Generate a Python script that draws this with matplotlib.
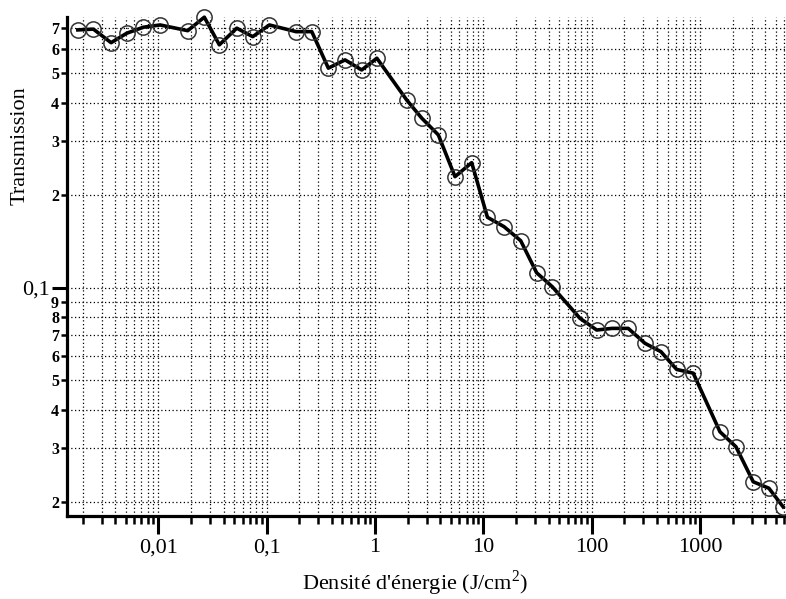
import numpy as np
import matplotlib.pyplot as plt
from matplotlib.ticker import FixedLocator, FixedFormatter, NullFormatter

# energy density (J/cm2) and transmission
energie = [0.00181, 0.00252, 0.00367, 0.00512, 0.00729, 0.0104, 0.0187, 0.0266,
           0.0366, 0.0530, 0.0744, 0.106, 0.187, 0.261, 0.371, 0.529, 0.754,
           1.04, 1.96, 2.70, 3.84, 5.47, 7.80, 10.9, 15.5, 22.1, 31.0, 43.2,
           77.8, 111, 154, 217, 310, 435, 607, 864, 1524, 2140, 3090, 4310, 5840]
transmission = [0.690, 0.694, 0.627, 0.673, 0.704, 0.716, 0.686, 0.759,
                0.617, 0.699, 0.656, 0.716, 0.681, 0.681, 0.518, 0.551, 0.511,
                0.558, 0.408, 0.356, 0.314, 0.2296, 0.255, 0.1693, 0.1578,
                0.1420, 0.1117, 0.1006, 0.0794, 0.0727, 0.0736, 0.0736,
                0.0658, 0.0618, 0.0541, 0.0526, 0.0339, 0.0303, 0.0233,
                0.0222, 0.0193]

x_major = [0.01, 0.1, 1, 10, 100, 1000]
x_major_labels = ["0,01", "0,1", "1", "10", "100", "1000"]
y_major = [0.1]
y_major_labels = ["0,1"]
y_minor = [0.02, 0.03, 0.04, 0.05, 0.06, 0.07, 0.08, 0.09,
           0.2, 0.3, 0.4, 0.5, 0.6, 0.7]
y_minor_labels = ["2", "3", "4", "5", "6", "7", "8", "9",
                  "2", "3", "4", "5", "6", "7"]

plt.rcParams['font.family'] = ['Liberation Serif', 'DejaVu Serif']
plt.rcParams['mathtext.fontset'] = 'custom'
plt.rcParams['mathtext.rm'] = 'Liberation Serif'

fig = plt.figure(figsize=(7.86, 5.99), dpi=100)
ax = fig.add_axes([0.0849, 0.1386, 0.9151, 0.833])

ax.plot(energie, transmission, color='black', lw=2.6, zorder=3, clip_on=False)
ax.plot(energie, transmission, ls='none', marker='o', ms=11, mfc='none',
        mec='#333333', mew=1.1, zorder=4, clip_on=False)

ax.set_xscale('log')
ax.set_yscale('log')
ax.set_xlim(0.00143, 6200)
ax.set_ylim(0.01803, 0.760)

# x ticks
ax.xaxis.set_major_locator(FixedLocator(x_major))
ax.xaxis.set_major_formatter(FixedFormatter(x_major_labels))
x_minor = [m * d for d in [0.001, 0.01, 0.1, 1, 10, 100, 1000] for m in range(2, 10)]
ax.xaxis.set_minor_locator(FixedLocator(x_minor))
ax.xaxis.set_minor_formatter(NullFormatter())

# y ticks
ax.yaxis.set_major_locator(FixedLocator(y_major))
ax.yaxis.set_major_formatter(FixedFormatter(y_major_labels))
ax.yaxis.set_minor_locator(FixedLocator(y_minor))
ax.yaxis.set_minor_formatter(FixedFormatter(y_minor_labels))

ax.tick_params(axis='x', which='major', direction='out', length=13, width=2.2,
               labelsize=16, pad=3)
ax.tick_params(axis='x', which='minor', direction='out', length=6, width=1.8)
ax.tick_params(axis='y', which='major', direction='out', length=11, width=2.2,
               labelsize=16, pad=1)
ax.tick_params(axis='y', which='minor', direction='out', length=4.5, width=1.8,
               labelsize=11.5, pad=1)
for lab in ax.yaxis.get_minorticklabels():
    lab.set_fontweight('bold')

ax.grid(True, which='both', axis='both', ls=(0, (1, 2)), lw=0.9, color='black')

for s in ['top', 'right']:
    ax.spines[s].set_visible(False)
for s in ['left', 'bottom']:
    ax.spines[s].set_linewidth(2.3)

fig.text(0.026, 1 - 146 / 599, "Transmission", rotation=90, fontsize=16,
         ha='center', va='center')
fig.text(0.528, 1 - 583 / 599, "Densité d'énergie (J/cm$^{2}$)", fontsize=16,
         ha='center', va='center')

fig.savefig('out.png', dpi=100)
